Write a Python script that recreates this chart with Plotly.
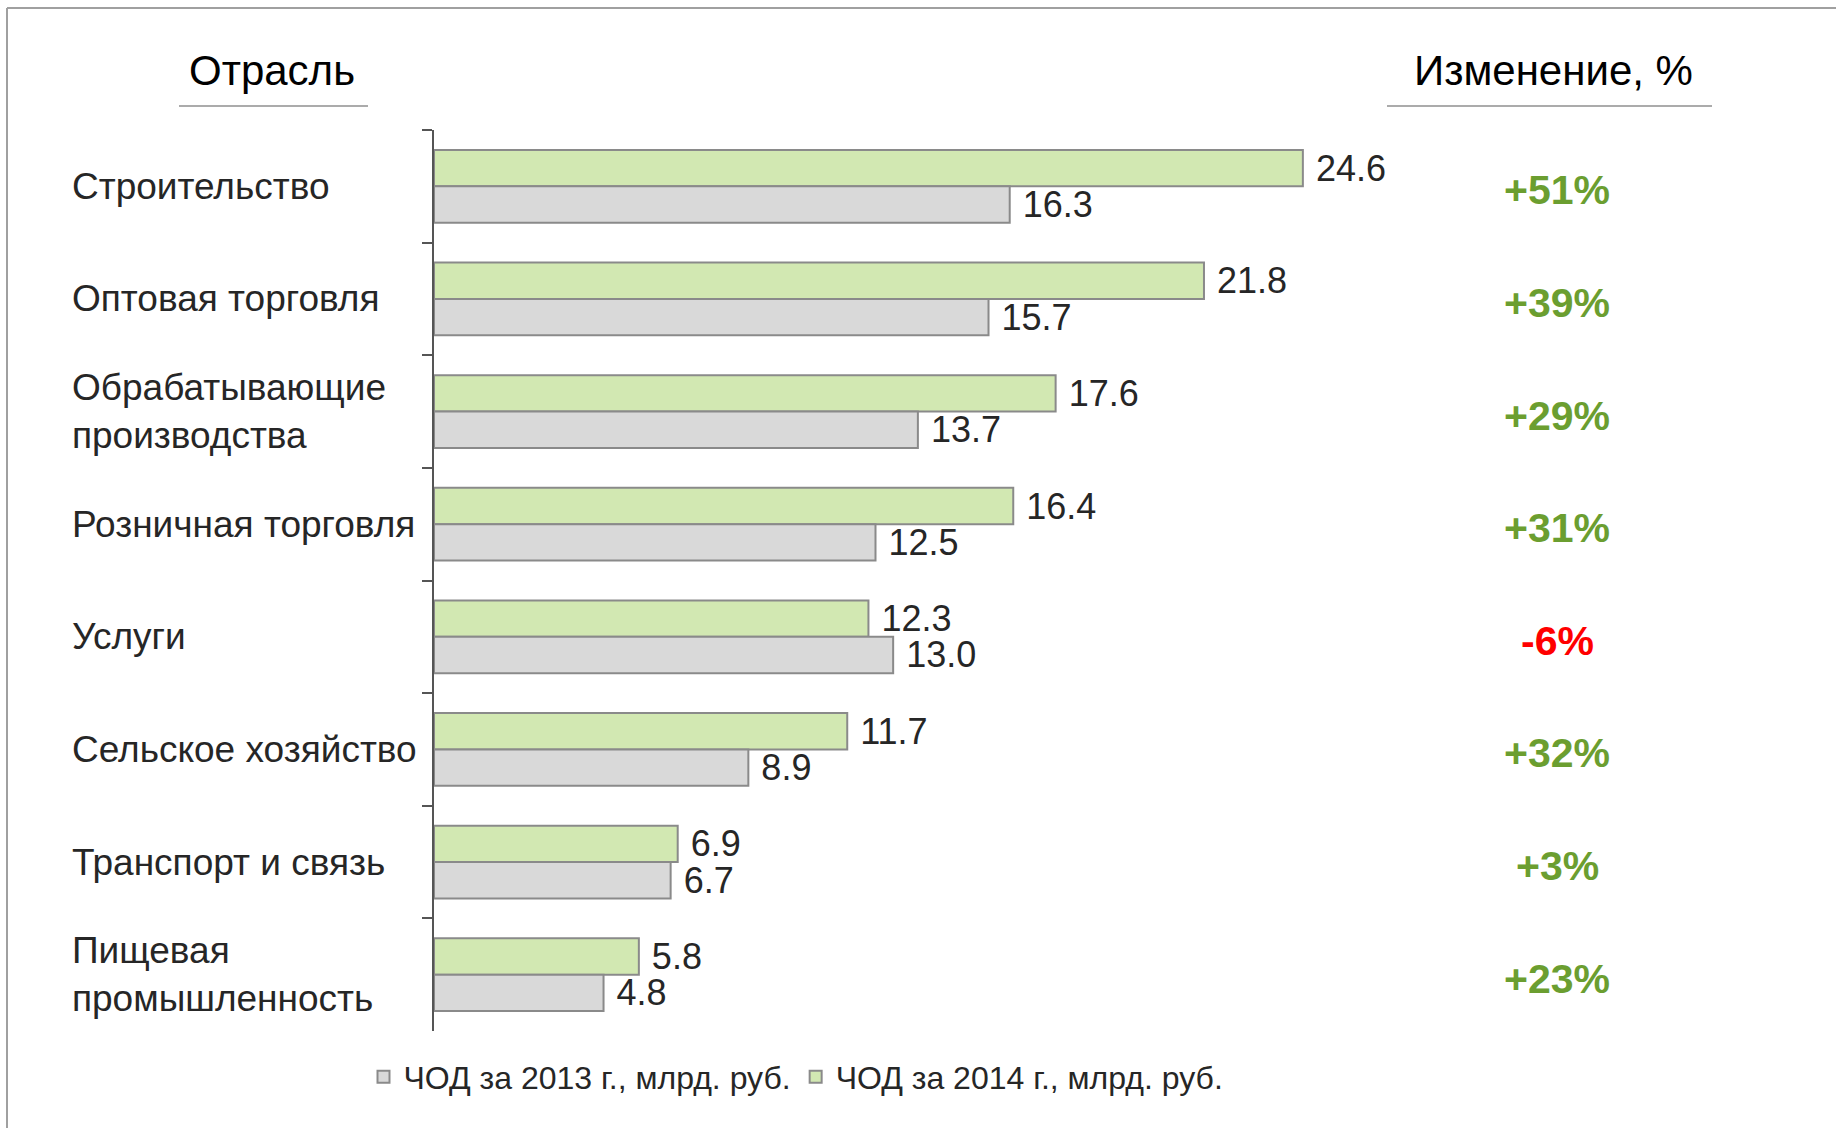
import plotly.graph_objects as go

W, H = 1836, 1128

# ---- data ----
categories = ["Строительство", "Оптовая торговля", "Обрабатывающие производства",
              "Розничная торговля", "Услуги", "Сельское хозяйство",
              "Транспорт и связь", "Пищевая промышленность"]
category_labels = ["Строительство", "Оптовая торговля", "Обрабатывающие<br>производства",
                   "Розничная торговля", "Услуги", "Сельское хозяйство",
                   "Транспорт и связь", "Пищевая<br>промышленность"]
values_2013 = [16.3, 15.7, 13.7, 12.5, 13.0, 8.9, 6.7, 4.8]
values_2014 = [24.6, 21.8, 17.6, 16.4, 12.3, 11.7, 6.9, 5.8]
change_pct = [51, 39, 29, 31, -6, 32, 3, 23]
series_names = ["ЧОД за 2013 г., млрд. руб.", "ЧОД за 2014 г., млрд. руб."]
header_left = "Отрасль"
header_right = "Изменение, %"

FONT = "Arial, Liberation Sans, sans-serif"
TXT = "#262626"

def px(x):
    return x / W

def py(y):
    return 1 - y / H

fig = go.Figure()
fig.add_trace(go.Bar(
    y=categories, x=values_2014, orientation="h", name=series_names[1],
    marker=dict(color="#d2e8b2", line=dict(color="#8a8a8a", width=2)),
    text=values_2014, texttemplate=" %{x:.1f}", textposition="outside",
    textfont=dict(family=FONT, size=36, color=TXT),
    constraintext="none", cliponaxis=False, hoverinfo="skip",
))
fig.add_trace(go.Bar(
    y=categories, x=values_2013, orientation="h", name=series_names[0],
    marker=dict(color="#d9d9d9", line=dict(color="#8a8a8a", width=2)),
    text=values_2013, texttemplate=" %{x:.1f}", textposition="outside",
    textfont=dict(family=FONT, size=36, color=TXT),
    constraintext="none", cliponaxis=False, hoverinfo="skip",
))

annotations = []
for cat, lab in zip(categories, category_labels):
    annotations.append(dict(
        x=px(70), xref="paper", y=cat, yref="y", text=lab, showarrow=False,
        xanchor="left", yanchor="middle", align="left",
        font=dict(family=FONT, size=37, color=TXT),
    ))
for cat, ch in zip(categories, change_pct):
    col = "#6b9e30" if ch >= 0 else "#ff0000"
    annotations.append(dict(
        x=px(1557), xref="paper", y=cat, yref="y", yshift=-4,
        text=f"{ch:+d}%", showarrow=False, xanchor="center", yanchor="middle",
        font=dict(family=FONT, size=41, color=col, weight="bold"),
    ))
annotations.append(dict(x=px(272), y=py(70), xref="paper", yref="paper", text=header_left,
                        showarrow=False, xanchor="center", yanchor="middle",
                        font=dict(family=FONT, size=42, color="#000000")))
annotations.append(dict(x=px(1553), y=py(70), xref="paper", yref="paper", text=header_right,
                        showarrow=False, xanchor="center", yanchor="middle",
                        font=dict(family=FONT, size=42, color="#000000")))

shapes = [
    dict(type="line", xref="paper", yref="paper", x0=px(7), x1=px(7), y0=0, y1=py(8),
         line=dict(color="#a0a0a0", width=2)),
    dict(type="line", xref="paper", yref="paper", x0=px(7), x1=1, y0=py(8), y1=py(8),
         line=dict(color="#a0a0a0", width=2)),
    dict(type="line", xref="paper", yref="paper", x0=px(179), x1=px(368), y0=py(106), y1=py(106),
         line=dict(color="#ababab", width=2)),
    dict(type="line", xref="paper", yref="paper", x0=px(1387), x1=px(1712), y0=py(106), y1=py(106),
         line=dict(color="#ababab", width=2)),
]

fig.update_layout(
    width=W, height=H,
    margin=dict(l=0, r=0, t=0, b=0),
    paper_bgcolor="white", plot_bgcolor="white",
    barmode="group", bargap=0.355, bargroupgap=0,
    xaxis=dict(domain=[px(434), px(434 + 27 * 35.32)], range=[0, 27], visible=False),
    yaxis=dict(domain=[py(1031), py(130)], type="category",
               categoryorder="array", categoryarray=categories,
               range=[7.5, -0.5], showticklabels=False, showgrid=False,
               showline=True, linecolor="#555555", linewidth=2,
               ticks="outside", tickson="boundaries", ticklen=10,
               tickcolor="#555555", tickwidth=2, zeroline=False),
    legend=dict(orientation="h", traceorder="reversed", x=px(796), xanchor="center",
                y=py(1077), yanchor="middle", itemwidth=30,
                font=dict(family=FONT, size=32, color=TXT)),
    annotations=annotations, shapes=shapes,
    showlegend=True,
)

fig.write_html("out.html")
